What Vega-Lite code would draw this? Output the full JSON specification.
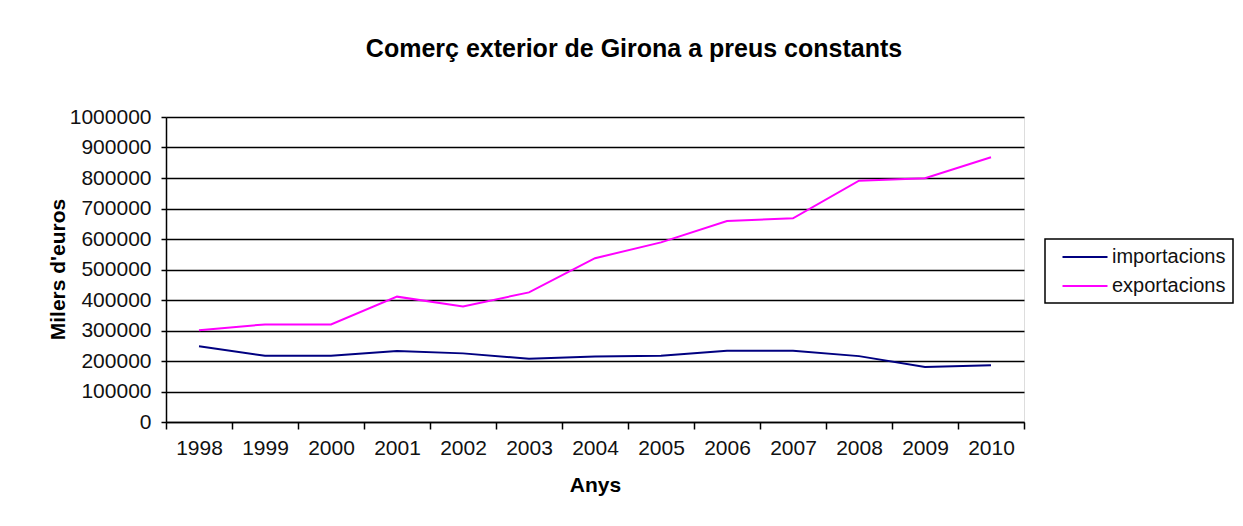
{
  "$schema": "https://vega.github.io/schema/vega-lite/v6.json",
  "autosize": {"type": "none"},
  "width": 858,
  "height": 305,
  "padding": {"left": 166, "top": 117, "right": 219, "bottom": 104},
  "background": "white",
  "title": {
    "text": "Comerç exterior de Girona a preus constants",
    "anchor": "middle",
    "frame": "group",
    "dx": 39,
    "offset": 44,
    "fontSize": 25,
    "fontWeight": "bold",
    "font": "Liberation Sans",
    "color": "#000000"
  },
  "data": {
    "values": [
      {"year": "1998", "series": "importacions", "value": 248000},
      {"year": "1999", "series": "importacions", "value": 217000},
      {"year": "2000", "series": "importacions", "value": 217000},
      {"year": "2001", "series": "importacions", "value": 233000},
      {"year": "2002", "series": "importacions", "value": 225000},
      {"year": "2003", "series": "importacions", "value": 207000},
      {"year": "2004", "series": "importacions", "value": 215000},
      {"year": "2005", "series": "importacions", "value": 217000},
      {"year": "2006", "series": "importacions", "value": 234000},
      {"year": "2007", "series": "importacions", "value": 234000},
      {"year": "2008", "series": "importacions", "value": 216000},
      {"year": "2009", "series": "importacions", "value": 180000},
      {"year": "2010", "series": "importacions", "value": 186000},
      {"year": "1998", "series": "exportacions", "value": 301000},
      {"year": "1999", "series": "exportacions", "value": 320000},
      {"year": "2000", "series": "exportacions", "value": 320000},
      {"year": "2001", "series": "exportacions", "value": 411000},
      {"year": "2002", "series": "exportacions", "value": 379000},
      {"year": "2003", "series": "exportacions", "value": 425000},
      {"year": "2004", "series": "exportacions", "value": 537000},
      {"year": "2005", "series": "exportacions", "value": 589000},
      {"year": "2006", "series": "exportacions", "value": 659000},
      {"year": "2007", "series": "exportacions", "value": 668000},
      {"year": "2008", "series": "exportacions", "value": 791000},
      {"year": "2009", "series": "exportacions", "value": 799000},
      {"year": "2010", "series": "exportacions", "value": 868000}
    ]
  },
  "mark": {"type": "line", "strokeWidth": 2},
  "encoding": {
    "x": {
      "field": "year",
      "type": "ordinal",
      "bandPosition": 0.5,
      "scale": {"type": "band", "paddingInner": 0, "paddingOuter": 0},
      "axis": {
        "title": "Anys",
        "tickBand": "extent",
        "labelAngle": 0,
        "labelFontSize": 21,
        "labelFont": "Liberation Sans",
        "labelColor": "#111111",
        "labelPadding": 8,
        "tickSize": 7,
        "tickColor": "#000000",
        "tickWidth": 1.5,
        "domainColor": "#000000",
        "domainWidth": 1.5,
        "grid": false,
        "titleFontSize": 21,
        "titleFont": "Liberation Sans",
        "titleFontWeight": "bold",
        "titleColor": "#000000",
        "titlePadding": 16
      }
    },
    "y": {
      "field": "value",
      "type": "quantitative",
      "scale": {"domain": [0, 1000000], "nice": false, "zero": true},
      "axis": {
        "title": "Milers d'euros",
        "values": [0, 100000, 200000, 300000, 400000, 500000, 600000, 700000, 800000, 900000, 1000000],
        "format": "d",
        "labelFontSize": 21,
        "labelFont": "Liberation Sans",
        "labelColor": "#111111",
        "labelPadding": 10,
        "tickSize": 5,
        "tickColor": "#000000",
        "tickWidth": 1.5,
        "domainColor": "#000000",
        "domainWidth": 1.5,
        "grid": true,
        "gridColor": "#000000",
        "gridWidth": 1.5,
        "titleFontSize": 21,
        "titleFont": "Liberation Sans",
        "titleFontWeight": "bold",
        "titleColor": "#000000",
        "titleAngle": 270,
        "titleX": -108,
        "titleY": 152,
        "titleAlign": "center",
        "titleBaseline": "middle"
      }
    },
    "color": {
      "field": "series",
      "type": "nominal",
      "sort": ["importacions", "exportacions"],
      "scale": {"domain": ["importacions", "exportacions"], "range": ["#000080", "#FF00FF"]},
      "legend": {
        "title": null,
        "orient": "none",
        "legendX": 879,
        "legendY": 122,
        "strokeColor": "#000000",
        "fillColor": "white",
        "padding": 7,
        "symbolType": "M-2.25,0H2.25",
        "symbolSize": 400,
        "symbolOffset": 22,
        "symbolStrokeWidth": 2,
        "labelFontSize": 20,
        "labelFont": "Liberation Sans",
        "labelColor": "#111111",
        "rowPadding": 8,
        "labelOffset": 16
      }
    }
  },
  "config": {
    "view": {"stroke": "#dddddd", "strokeWidth": 1},
    "legend": {"strokeWidth": 1.5}
  }
}
